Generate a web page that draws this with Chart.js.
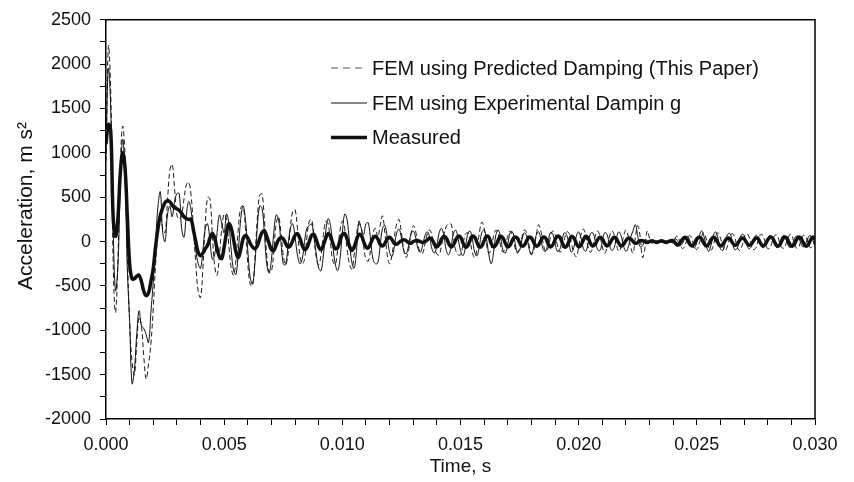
<!DOCTYPE html>
<html><head><meta charset="utf-8">
<script src="https://cdn.jsdelivr.net/npm/chart.js@4.4.1/dist/chart.umd.min.js"></script>
<style>html,body{margin:0;padding:0;background:#fff;} #wrap{width:854px;height:482px;}</style>
</head><body><div id="wrap"><canvas id="c" width="854" height="482"></canvas></div>
<script>
const seriesLabels = [
  'FEM using Predicted Damping (This Paper)',
  'FEM using Experimental Dampin g',
  'Measured'
];
const T_STEP = 0.0001; // sampling interval, s
const predicted = [
  900, 2200, 1700, -200, -800, -250, 800, 1300, 1000, -100,
  -900, -1350, -1500, -1150, -850, -950, -1300, -1550, -1380, -1150,
  -750, -250, 100, 280, 150, 100, 450, 800, 870, 600,
  300, 250, 300, 480, 640, 670, 520, 150, -250, -560,
  -630, -300, 200, 500, 480, 80, -280, -380, -150, 150,
  310, 250, -50, -300, -380, -200, 150, 380, 400, 150,
  -250, -480, -500, -200, 250, 520, 540, 250, -150, -350,
  -340, -100, 200, 280, 100, -150, -260, -150, 150, 340,
  360, 150, -150, -250, -200, 50, 230, 250, 60, -180,
  -260, -150, 80, 230, 200, -20, -220, -260, -100, 120,
  230, 150, -80, -250, -310, -150, 80, 200, 150, -50,
  -200, -220, -80, 100, 150, 50, 180, 290, 100, -150,
  -250, -150, 50, 200, 250, 100, -100, -180, -100, 80,
  180, 120, -40, -120, -130, -20, 90, 130, 60, -60,
  -140, -150, -40, 80, 170, 200, 200, 50, -100, -150,
  -150, -40, 80, 100, 20, -120, -180, -80, 100, 220,
  150, -30, -130, -80, 60, 130, 80, -50, -120, -60,
  60, 120, 60, -60, -130, -70, 50, 130, 100, -40,
  -140, -100, 60, 190, 120, -20, -110, -80, 40, 120,
  80, -40, -120, -90, 30, 110, 90, -30, -130, -170,
  -60, 80, 140, 70, -60, -120, -60, 60, 120, 60,
  -60, -130, -70, 50, 120, 80, -40, -110, -60, 60,
  130, 60, -60, -130, 50, 180, 60, -180, -80, 120,
  40, -20, 0, 10, -10, 0, 10, -10, 0, 10,
  -20, 50, 60, -30, -80, -40, 30, 70, 20, -60,
  -90, -20, 60, 100, 30, -60, -100, -40, 60, 100,
  40, -60, -100, -50, 50, 90, 50, -50, -100, -60,
  40, 90, 60, -30, -90, -70, 20, 80, 70, -20,
  -80, -70, 10, 70, 70, -10, -70, -70, 0, 70,
  80, 0, -70, -70, 10, 70, 60, -10, -70, -50,
  20
];
const experimental = [
  1000, 1950, 1500, 200, -550, -300, 600, 1150, 800, -300,
  -900, -1600, -1450, -1050, -780, -950, -980, -1050, -1140, -800,
  -450, 0, 400, 560, 100, 0, 300, 400, 280, 450,
  540, 540, 150, 50, 300, 450, 350, 100, -100, -250,
  -300, -100, 150, 200, 0, -200, -150, 100, 300, 200,
  100, 310, 200, -100, -330, -370, -100, 250, 400, 250,
  -100, -400, -480, -250, 150, 400, 380, 100, -250, -350,
  -200, 100, 300, 250, 0, -250, -260, -50, 150, 200,
  50, -150, -250, -200, 0, 150, 180, 200, 50, -150,
  -300, -330, -150, 120, 260, 180, -50, -250, -330, -200,
  100, 310, 250, 0, -230, -300, -100, 230, 150, 80,
  200, 210, 0, -200, -250, -240, -50, 150, 180, 50,
  -120, -170, -60, 100, 140, 40, -100, -140, -50, 80,
  120, 50, -80, -120, -40, 70, 110, 40, -90, -130,
  -40, 100, 150, 60, -100, -150, -60, 90, 130, 30,
  -100, -160, -80, 80, 120, 30, -120, -160, -50, 100,
  130, 30, -150, -250, -120, 80, 130, 40, -100, -130,
  -30, 100, 110, 0, -120, -100, 20, 100, 60, -80,
  -150, -60, 70, 110, 30, -90, -110, -10, 100, 90,
  -20, -110, -90, 20, 100, 70, -40, -120, -60, 60,
  110, 40, -80, -110, -20, 90, 100, 10, -90, -100,
  0, 100, 80, -30, -100, -70, 40, 110, 60, -50,
  -110, -60, 50, 120, 190, 60, -60, -50, 20, 10,
  0, -10, 0, 10, 0, -10, 0, 10, 0, -10,
  0, 30, 0, -40, -20, 40, 60, 10, -50, -70,
  -10, 60, 120, 60, -50, -110, -40, 70, 110, 30,
  -80, -100, -10, 80, 90, 0, -90, -80, 10, 80,
  70, -20, -80, -60, 20, 70, 50, -30, -70, -40,
  30, 70, 30, -40, -70, -20, 50, 70, 10, -60,
  -60, 10, 60, 50, -20, -60, -30, 40, 70, 20,
  -40
];
const measured = [
  1100, 1320, 1250, 300, 60, 250, 750, 1000, 850, 300,
  -250, -420, -420, -390, -380, -450, -560, -610, -580, -450,
  -300, -50, 150, 300, 380, 440, 460, 450, 410, 380,
  370, 350, 320, 280, 260, 250, 250, 130, 0, -120,
  -160, -130, -80, -40, 40, 90, 40, -80, -170, -190,
  -60, 100, 200, 150, 20, -120, -180, -90, 30, 70,
  40, -20, -60, -80, -50, 30, 100, 120, 60, -20,
  -90, -100, -40, 20, 45, 30, -20, -60, -50, 10,
  70, 90, 40, -40, -90, -70, 0, 70, 80, 20,
  -60, -90, -40, 40, 90, 60, -20, -80, -70, 10,
  80, 90, 30, -50, -100, -60, 20, 80, 70, 0,
  -60, -70, -20, 40, 60, 30, -30, -50, -20, 30,
  50, 20, -20, -30, -10, 10, 20, 10, -10, -20,
  0, 10, 10, 0, -10, 0, 20, 40, 20, -30,
  -60, -30, 30, 60, 40, -20, -60, -40, 20, 60,
  50, -10, -60, -50, 10, 60, 50, -10, -60, -50,
  10, 60, 50, -20, -60, -40, 20, 60, 40, -20,
  -60, -40, 20, 50, 40, -10, -50, -40, 10, 50,
  40, -10, -50, -40, 10, 50, 40, -20, -60, -40,
  20, 60, 50, -10, -60, -50, 10, 60, 40, -20,
  -60, -40, 20, 60, 40, -20, -50, -30, 20, 50,
  30, -20, -50, -30, 20, 50, 30, -20, -50, -30,
  10, 40, 30, 0, -20, -10, 10, 10, 0, -10,
  0, 10, 0, -10, 0, 10, 0, -10, 0, 10,
  10, -20, -40, -10, 30, 50, 20, -30, -50, -20,
  30, 50, 30, -20, -50, -30, 20, 50, 30, -20,
  -50, -30, 10, 40, 30, -10, -40, -30, 10, 40,
  30, -10, -40, -30, 10, 40, 30, -20, -50, -30,
  20, 50, 40, -10, -50, -40, 10, 50, 40, -10,
  -50, -40, 10, 50, 40, -10, -50, -40, 10, 50,
  30
];
const time = measured.map((_, i) => Math.round(i * T_STEP * 1e6) / 1e6);
const xTickLabels = ['0.000', '0.005', '0.010', '0.015', '0.020', '0.025', '0.030'];
const yTickLabels = ['-2000', '-1500', '-1000', '-500', '0', '500', '1000', '1500', '2000', '2500'];
const xAxisTitle = 'Time, s';
const yAxisTitle = 'Acceleration, m s\u00B2';

const FONT = "'Liberation Sans', Arial, Helvetica, sans-serif";
const toPoints = arr => arr.map((v, i) => ({ x: time[i], y: v }));

const legendDash = [7, 5];

const framePlugin = {
  id: 'frameAndLegend',
  afterDraw(chart) {
    const ctx = chart.ctx;
    const a = chart.chartArea;
    ctx.save();
    // frame
    ctx.strokeStyle = '#000';
    ctx.lineWidth = 1.5;
    ctx.beginPath();
    ctx.moveTo(a.left, a.top);
    ctx.lineTo(a.right, a.top);
    ctx.lineTo(a.right, a.bottom);
    ctx.stroke();
    // y title
    ctx.save();
    ctx.translate(26, 206);
    ctx.rotate(-Math.PI / 2);
    ctx.font = '21px ' + FONT;
    ctx.fillStyle = '#111';
    ctx.textAlign = 'center';
    ctx.textBaseline = 'middle';
    ctx.fillText(yAxisTitle, 0, 0);
    ctx.restore();
    // legend
    const rows = [68, 103, 137.5];
    chart.data.datasets.forEach((ds, i) => {
      const y = rows[i];
      ctx.beginPath();
      const dashed = ds.borderDash && ds.borderDash.length;
      ctx.strokeStyle = dashed ? '#555' : ds.borderColor;
      ctx.lineWidth = ds.borderWidth;
      ctx.setLineDash(dashed ? legendDash : []);
      ctx.moveTo(331, y);
      ctx.lineTo(i === 0 ? 362 : 367, y);
      ctx.stroke();
      ctx.setLineDash([]);
      ctx.font = '20px ' + FONT;
      ctx.fillStyle = '#111';
      ctx.textAlign = 'left';
      ctx.textBaseline = 'middle';
      ctx.fillText(ds.label, 372, y + 1);
    });
    ctx.restore();
  }
};

new Chart(document.getElementById('c'), {
  type: 'line',
  data: {
    datasets: [
      { label: seriesLabels[0], data: toPoints(predicted), borderColor: '#1a1a1a', borderWidth: 1,
        borderDash: [5, 3], pointRadius: 0, tension: 0.4, fill: false, order: 2 },
      { label: seriesLabels[1], data: toPoints(experimental), borderColor: '#111', borderWidth: 1,
        pointRadius: 0, tension: 0.4, fill: false, order: 1 },
      { label: seriesLabels[2], data: toPoints(measured), borderColor: '#111', borderWidth: 3.5,
        pointRadius: 0, tension: 0.4, fill: false, order: 0 }
    ]
  },
  options: {
    responsive: false,
    animation: false,
    devicePixelRatio: 1,
    layout: { padding: { top: 19, right: 39, left: 0, bottom: 0 } },
    plugins: { legend: { display: false }, tooltip: { enabled: false } },
    scales: {
      x: {
        type: 'linear', min: 0, max: 0.03,
        afterFit: s => { s.height = 63; },
        ticks: {
          stepSize: 0.001, autoSkip: false, maxRotation: 0, padding: 9,
          color: '#111', font: { family: FONT, size: 18 },
          callback: v => {
            const k = Math.round(v * 1000);
            return k % 5 === 0 ? xTickLabels[k / 5] : '';
          }
        },
        grid: { drawOnChartArea: false, drawTicks: true, tickLength: 6, color: '#000', lineWidth: 1 },
        border: { display: true, color: '#000', width: 1.5 },
        title: { display: true, text: xAxisTitle, color: '#111', font: { family: FONT, size: 19 },
                 padding: { top: 0, bottom: 4 } }
      },
      y: {
        min: -2000, max: 2500,
        afterFit: s => { s.width = 106; },
        ticks: {
          stepSize: 250, autoSkip: false, padding: 9,
          color: '#111', font: { family: FONT, size: 18 },
          callback: v => {
            const r = Math.round(v);
            return r % 500 === 0 ? yTickLabels[(r + 2000) / 500] : '';
          }
        },
        grid: { drawOnChartArea: false, drawTicks: true, tickLength: 6, color: '#000', lineWidth: 1 },
        border: { display: true, color: '#000', width: 1.5 }
      }
    }
  },
  plugins: [framePlugin]
});
</script>
</body></html>
